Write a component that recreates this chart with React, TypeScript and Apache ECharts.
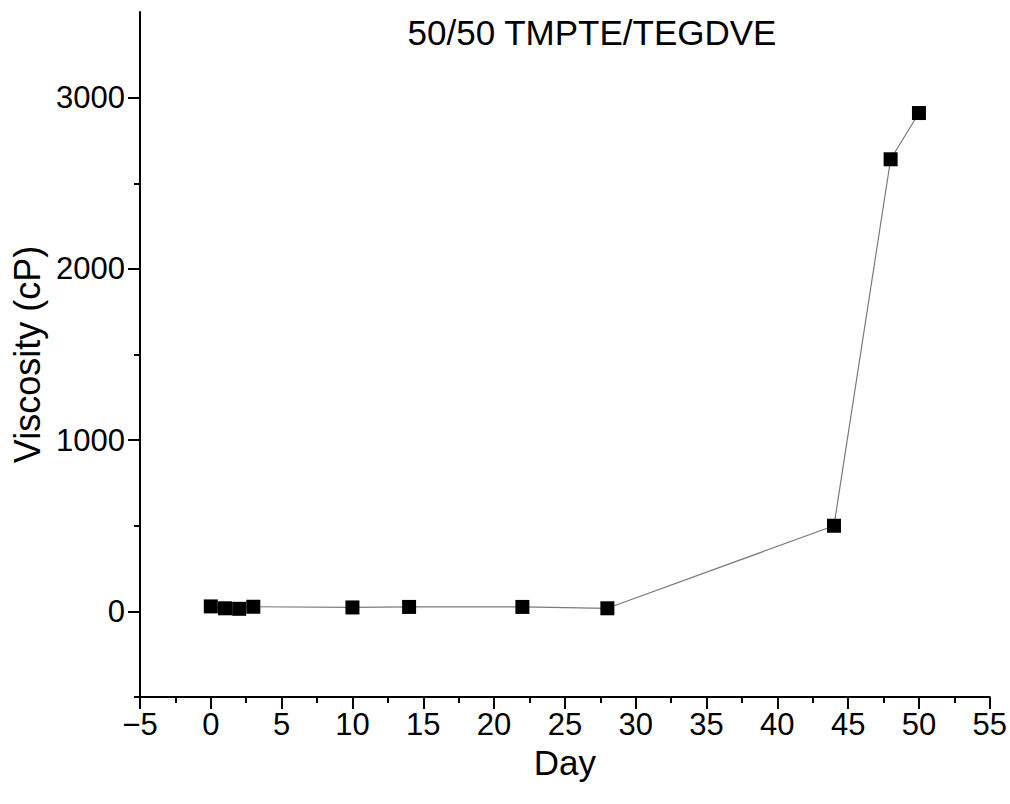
import React, { useEffect, useRef } from "react";
import * as echarts from "echarts";

// Viscosity of the 50/50 TMPTE/TEGDVE blend over storage time
const days = [0, 1, 2, 3, 10, 14, 22, 28, 44, 48, 50];
const viscosity = [29, 18, 15, 27, 23, 26, 26, 18, 500, 2640, 2910];

const majorYTicks = [0, 1000, 2000, 3000];
const minorYTicks = [-500, 500, 1500, 2500];

const FONT = "Liberation Sans, Arial, sans-serif";

const fmt = (v: number) => (v < 0 ? "\u2212" + Math.abs(v) : String(v));

export default function App() {
  const ref = useRef<HTMLDivElement>(null);

  useEffect(() => {
    if (!ref.current) return;
    const chart = echarts.init(ref.current, null, { renderer: "svg" });
    const axisLine = { show: true, onZero: false, lineStyle: { color: "#000", width: 2 } };
    chart.setOption({
      animation: false,
      backgroundColor: "#fff",
      grid: { left: 140, top: 12, width: 851, height: 685, containLabel: false },
      graphic: [
        {
          type: "text",
          x: 592,
          y: 32,
          style: {
            text: "50/50 TMPTE/TEGDVE",
            font: `35px ${FONT}`,
            fill: "#000",
            align: "center",
            verticalAlign: "middle",
          },
        },
      ],
      xAxis: {
        type: "value",
        min: -5,
        max: 55,
        interval: 5,
        name: "Day",
        nameLocation: "middle",
        nameGap: 48,
        nameTextStyle: { fontFamily: FONT, fontSize: 35, color: "#000" },
        axisLine,
        axisTick: { show: true, inside: false, length: 12, lineStyle: { color: "#000", width: 2 } },
        minorTick: { show: true, splitNumber: 2, length: 6, lineStyle: { color: "#000", width: 2 } },
        axisLabel: { fontFamily: FONT, fontSize: 31, color: "#000", margin: 12, formatter: fmt },
        splitLine: { show: false },
      },
      yAxis: [
        {
          type: "value",
          min: -500,
          max: 3500,
          position: "left",
          name: "Viscosity (cP)",
          nameLocation: "middle",
          nameGap: 94,
          nameTextStyle: { fontFamily: FONT, fontSize: 36, color: "#000" },
          axisLine,
          axisTick: {
            show: true,
            length: 12,
            customValues: majorYTicks,
            lineStyle: { color: "#000", width: 2 },
          },
          axisLabel: {
            fontFamily: FONT,
            fontSize: 31,
            color: "#000",
            margin: 15,
            customValues: majorYTicks,
            formatter: fmt,
          },
          splitLine: { show: false },
        },
        {
          type: "value",
          min: -500,
          max: 3500,
          position: "left",
          axisLine: { show: false, onZero: false },
          axisTick: {
            show: true,
            length: 6,
            customValues: minorYTicks,
            lineStyle: { color: "#000", width: 2 },
          },
          axisLabel: { show: false, customValues: minorYTicks },
          splitLine: { show: false },
        },
      ],
      series: [
        {
          type: "line",
          data: days.map((d, i) => [d, viscosity[i]]),
          symbol: "rect",
          symbolSize: 14,
          showAllSymbol: true,
          lineStyle: { color: "#7a7a7a", width: 1.2 },
          itemStyle: { color: "#000", borderColor: "#000", borderWidth: 0 },
          z: 3,
        },
      ],
    });
    return () => chart.dispose();
  }, []);

  return (
    <div
      ref={ref}
      style={{ position: "fixed", left: 0, top: 0, width: 1010, height: 804 }}
    />
  );
}
